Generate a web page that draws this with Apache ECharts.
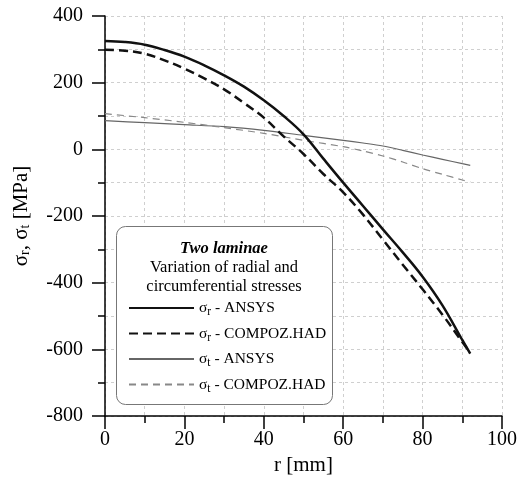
<!DOCTYPE html>
<html>
<head>
<meta charset="utf-8">
<script src="https://cdn.jsdelivr.net/npm/echarts@6/dist/echarts.min.js"></script>
<style>html,body{margin:0;padding:0;background:#fff}#c{width:520px;height:488px}</style>
</head>
<body>
<div id="c"></div>
<script>
// r [mm] sample positions
const rR = [0,5,10,15,20,25,30,35,40,45,50,55,60,65,70,75,80,85,90,92];
// sigma_r ANSYS
const sigRAnsys = [325,322,314,298,278,252,222,188,147,100,45,-28,-100,-170,-240,-309,-382,-468,-572,-613];
// sigma_r COMPOZ.HAD
const sigRCompoz = [299,296,287,267,242,213,180,139,95,39,-14,-74,-129,-196,-271,-346,-420,-496,-578,-610];
// r positions for sigma_t
const rT = [0,10,20,30,40,50,60,65,70,75,80,85,90,92];
// sigma_t ANSYS
const sigTAnsys = [86,80,74,68,57,42,27,19,10,-3,-17,-30,-43,-48];
// sigma_t COMPOZ.HAD
const sigTCompoz = [107,95,81,65,48,27,8,-5,-20,-38,-58,-75,-92,-98];

const xTicks = [0,20,40,60,80,100];
const yTicks = [-800,-600,-400,-200,0,200,400];

const seriesNames = ['sr_ansys','sr_compoz','st_ansys','st_compoz'];
const legendLabels = {
  sr_ansys: '\u03c3{s|r} - ANSYS',
  sr_compoz: '\u03c3{s|r} - COMPOZ.HAD',
  st_ansys: '\u03c3{s|t} - ANSYS',
  st_compoz: '\u03c3{s|t} - COMPOZ.HAD'
};

const pair = (xs, ys) => xs.map((x,i)=>[x, ys[i]]);
const FONT = '"Liberation Serif","Times New Roman",serif';

const chart = echarts.init(document.getElementById('c'), null, {renderer:'canvas'});
chart.setOption({
  backgroundColor:'#fff',
  animation:false,
  textStyle:{fontFamily:FONT, color:'#000'},
  grid:{left:105, right:17, top:16, bottom:72, containLabel:false},
  xAxis:{
    type:'value', min:xTicks[0], max:xTicks[xTicks.length-1], interval:20,
    name:'r [mm]', nameLocation:'middle', nameGap:39,
    nameTextStyle:{fontFamily:FONT, fontSize:21, color:'#000'},
    axisLine:{show:true, onZero:false, lineStyle:{color:'#000', width:1.5}},
    axisTick:{show:true, length:13, lineStyle:{color:'#000', width:1.5}},
    minorTick:{show:true, splitNumber:2, length:7, lineStyle:{color:'#000', width:1.5}},
    axisLabel:{fontFamily:FONT, fontSize:20, color:'#000', margin:14},
    splitLine:{show:true, lineStyle:{color:'#cfcfcf', width:1, type:[3,3]}},
    minorSplitLine:{show:true, lineStyle:{color:'#cfcfcf', width:1, type:[3,3]}}
  },
  yAxis:{
    type:'value', min:yTicks[0], max:yTicks[yTicks.length-1], interval:200,
    name:'\u03c3{s|r}, \u03c3{s|t} [MPa]', nameLocation:'middle', nameGap:73, nameRotate:90,
    nameTextStyle:{fontFamily:FONT, fontSize:21, color:'#000',
      rich:{s:{fontFamily:FONT, fontSize:14, color:'#000', padding:[8,0,0,0]}}},
    axisLine:{show:true, onZero:false, lineStyle:{color:'#000', width:1.5}},
    axisTick:{show:true, length:13, lineStyle:{color:'#000', width:1.5}},
    minorTick:{show:true, splitNumber:2, length:7, lineStyle:{color:'#000', width:1.5}},
    axisLabel:{fontFamily:FONT, fontSize:20, color:'#000', margin:22},
    splitLine:{show:true, lineStyle:{color:'#cfcfcf', width:1, type:[3,3]}},
    minorSplitLine:{show:true, lineStyle:{color:'#cfcfcf', width:1, type:[3,3]}}
  },
  legend:{
    orient:'vertical', left:128, top:300, padding:0, itemWidth:65, itemHeight:14, itemGap:7.5,
    data:seriesNames, selectedMode:false, z:20,
    itemStyle:{opacity:0},
    formatter:(n)=>legendLabels[n],
    textStyle:{fontFamily:FONT, fontSize:15.5, color:'#000',
      rich:{s:{fontFamily:FONT, fontSize:11.5, color:'#000', padding:[8,0,0,0]}}}
  },
  graphic:[
    {type:'rect', z:15, left:116, top:226, shape:{width:216, height:178, r:9},
      style:{fill:'#fff', stroke:'#777', lineWidth:1}},
    {type:'text', z:16, x:224, y:249, style:{text:'Two laminae', font:'italic bold 16.5px '+FONT, fill:'#000', align:'center', verticalAlign:'middle'}},
    {type:'text', z:16, x:224, y:268, style:{text:'Variation of radial and', font:'16.5px '+FONT, fill:'#000', align:'center', verticalAlign:'middle'}},
    {type:'text', z:16, x:224, y:287, style:{text:'circumferential stresses', font:'16.5px '+FONT, fill:'#000', align:'center', verticalAlign:'middle'}}
  ],
  series:[
    {name:'sr_ansys', type:'line', data:pair(rR, sigRAnsys), smooth:0.4, symbol:'none', z:5,
      lineStyle:{color:'#111', width:2.5, type:'solid'}, itemStyle:{color:'#111'}},
    {name:'sr_compoz', type:'line', data:pair(rR, sigRCompoz), smooth:0.4, symbol:'none', z:5,
      lineStyle:{color:'#111', width:2.5, type:[9,5]}, itemStyle:{color:'#111'}},
    {name:'st_ansys', type:'line', data:pair(rT, sigTAnsys), smooth:0.3, symbol:'none', z:4,
      lineStyle:{color:'#666', width:1.2, type:'solid'}, itemStyle:{color:'#666'}},
    {name:'st_compoz', type:'line', data:pair(rT, sigTCompoz), smooth:0.3, symbol:'none', z:4,
      lineStyle:{color:'#888', width:1.2, type:[7,5]}, itemStyle:{color:'#888'}}
  ]
});
</script>
</body>
</html>
